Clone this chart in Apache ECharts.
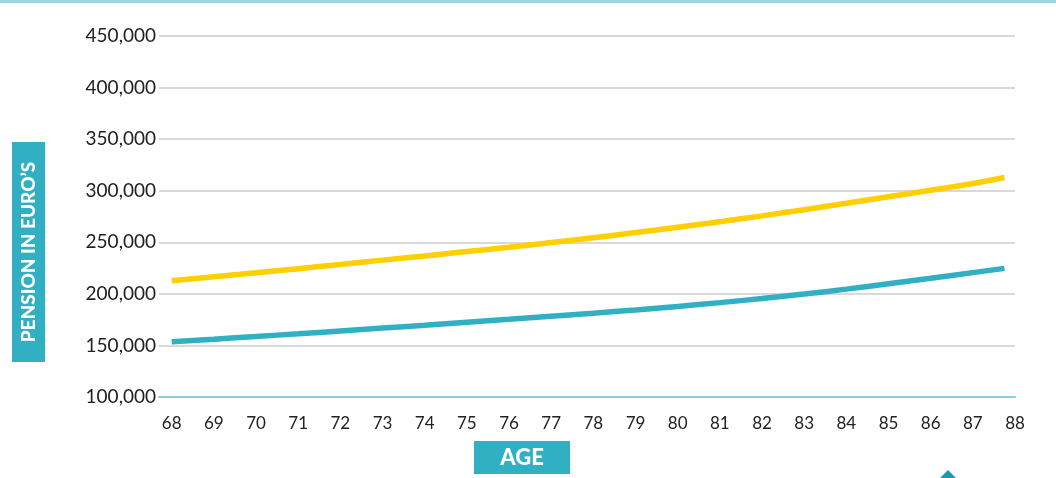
<!DOCTYPE html>
<html>
<head>
<meta charset="utf-8">
<script src="https://cdn.jsdelivr.net/npm/echarts@6/dist/echarts.min.js"></script>
<style>html,body{margin:0;padding:0;background:#fff;}#c{width:1056px;height:478px;}</style>
</head>
<body>
<div id="c"></div>
<script>
var ages = [68,69,70,71,72,73,74,75,76,77,78,79,80,81,82,83,84,85,86,87,87.75];
var upperPension = [212600,216500,220400,224400,228500,232700,236800,241000,245200,249700,254400,259400,264600,270000,275600,281600,287800,294200,300400,307000,312800];
var lowerPension = [153600,156100,158700,161300,164000,166800,169600,172500,175400,178400,181300,184400,187800,191500,195500,199800,204600,209800,215100,220600,224700];
var ageTicks = [68,69,70,71,72,73,74,75,76,77,78,79,80,81,82,83,84,85,86,87,88];
var yAxisTitle = 'PENSION IN EURO\u2019S';
var xAxisTitle = 'AGE';

function pairs(xs, ys){ return xs.map(function(x,i){ return [x, ys[i]]; }); }

var chart = echarts.init(document.getElementById('c'), null, {renderer:'canvas'});
var fontFam = 'Lato, "Open Sans", sans-serif';
chart.setOption({
  animation: false,
  backgroundColor: '#ffffff',
  grid: {left: 159, right: 41, top: 36, bottom: 81},
  xAxis: {
    type: 'value', min: 67.7, max: 88,
    axisLine: {show: true, lineStyle: {color: '#86d0dc', width: 2}},
    axisTick: {show: false},
    splitLine: {show: false},
    axisLabel: {customValues: ageTicks, color: '#222', fontSize: 17, fontFamily: fontFam, margin: 18}
  },
  yAxis: {
    type: 'value', min: 100000, max: 450000, interval: 50000,
    axisLine: {show: false}, axisTick: {show: false},
    splitLine: {lineStyle: {color: '#cccccc', width: 1.5}},
    axisLabel: {color: '#222', fontSize: 19, fontFamily: fontFam, margin: 3,
      formatter: function(v){ return v.toLocaleString('en-US'); }}
  },
  series: [
    {type: 'line', data: pairs(ages, upperPension), smooth: true, showSymbol: false,
      lineStyle: {color: '#ffcf00', width: 5.5, cap: 'butt'}, z: 3},
    {type: 'line', data: pairs(ages, lowerPension), smooth: true, showSymbol: false,
      lineStyle: {color: '#31b0c4', width: 5.5, cap: 'butt'}, z: 3}
  ],
  graphic: [
    {type: 'rect', left: 0, top: 0, shape: {width: 1056, height: 3}, style: {fill: '#9ad7e0'}},
    {type: 'rect', left: 12, top: 142, shape: {width: 33, height: 220}, style: {fill: '#31b0c4'}},
    {type: 'text', x: 29, y: 252, rotation: Math.PI/2,
      style: {text: yAxisTitle, fill: '#fff', font: '900 19px ' + fontFam, align: 'center', verticalAlign: 'middle'}},
    {type: 'rect', left: 474, top: 441, shape: {width: 96, height: 33}, style: {fill: '#31b0c4'}},
    {type: 'text', x: 522, y: 458,
      style: {text: xAxisTitle, fill: '#fff', font: '900 22px ' + fontFam, align: 'center', verticalAlign: 'middle'}},
    {type: 'polygon', shape: {points: [[940,478],[948,470],[956,478]]}, style: {fill: '#1a9db0'}}
  ]
});
</script>
</body>
</html>
